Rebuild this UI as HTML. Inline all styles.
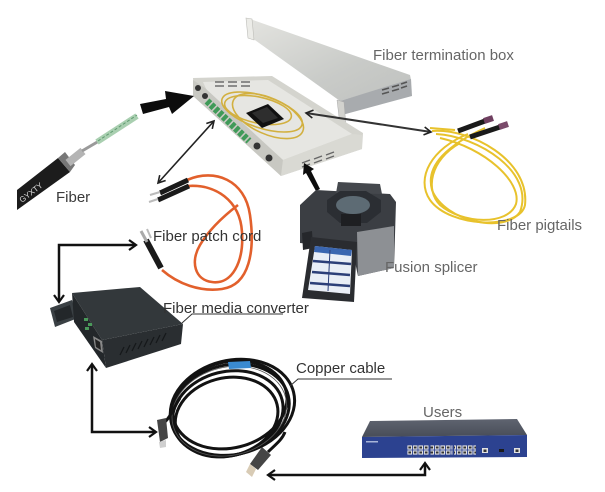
<!DOCTYPE html>
<html><head><meta charset="utf-8"><style>
html,body{margin:0;padding:0;background:#fff;}
svg{display:block;}
text{font-family:"Liberation Sans",Arial,sans-serif;font-size:15px;}
</style></head><body>
<svg width="605" height="492" viewBox="0 0 605 492" xmlns="http://www.w3.org/2000/svg">
<defs>
 <marker id="ah" markerWidth="12" markerHeight="12" refX="9" refY="6" orient="auto-start-reverse" markerUnits="userSpaceOnUse">
  <path d="M2,1 L9,6 L2,11" fill="none" stroke="#111" stroke-width="2.2"/>
 </marker>
 <marker id="ahs" markerWidth="10" markerHeight="10" refX="8" refY="5" orient="auto-start-reverse" markerUnits="userSpaceOnUse">
  <path d="M1,1 L8,5 L1,9" fill="none" stroke="#222" stroke-width="1.6"/>
 </marker>
 <linearGradient id="lidg" x1="0" y1="0" x2="1" y2="1">
  <stop offset="0" stop-color="#e4e4e0"/><stop offset="0.6" stop-color="#c9cbc8"/><stop offset="1" stop-color="#bfc1bf"/>
 </linearGradient>
 <linearGradient id="swtop" x1="0" y1="0" x2="0" y2="1">
  <stop offset="0" stop-color="#5f6470"/><stop offset="1" stop-color="#484d58"/>
 </linearGradient>
 <pattern id="ports" width="5.5" height="5" patternUnits="userSpaceOnUse" x="407" y="445">
  <rect x="0.4" y="0.4" width="4.6" height="4.2" fill="#e2e2e2"/><rect x="1.4" y="1.5" width="2.6" height="2" fill="#333"/>
 </pattern>
</defs>

<!-- ===== Fiber termination box lid ===== -->
<polygon points="246,18 253,20 410,75 411,80 340,101 252,38" fill="url(#lidg)"/>
<polygon points="246,18 252,19 254,40 248,38" fill="#ecece8" stroke="#bdbdb8" stroke-width="0.6"/>
<polygon points="340,101 411,79 412,96 342,115" fill="#a8abae"/>
<polygon points="337,100 344,102 346,127 340,125" fill="#d2d2ce" stroke="#aaa" stroke-width="0.5"/>
<g stroke="#555" stroke-width="1.6">
 <line x1="382" y1="90" x2="389" y2="88"/><line x1="392" y1="87" x2="399" y2="85"/><line x1="401" y1="84" x2="407" y2="82"/>
 <line x1="382" y1="94" x2="389" y2="92"/><line x1="392" y1="91" x2="399" y2="89"/><line x1="401" y1="88" x2="407" y2="86"/>
</g>

<!-- ===== Tray ===== -->
<polygon points="193,78 272,76 363,133 362,149 281,176 194,96" fill="#d4d4ce"/>
<polygon points="203,82 268,80 352,134 283,160 208,93" fill="#e6e6e2"/>
<polygon points="193,80 205,88 283,160 281,176 193,96" fill="#c8c8c2"/>
<polygon points="283,160 352,134 362,135 362,149 281,176" fill="#d9d9d3"/>
<g stroke="#666" stroke-width="1.4">
 <line x1="215" y1="82" x2="224" y2="82"/><line x1="228" y1="82" x2="237" y2="82"/><line x1="241" y1="82" x2="250" y2="82"/>
 <line x1="215" y1="86" x2="224" y2="86"/><line x1="228" y1="86" x2="237" y2="86"/><line x1="241" y1="86" x2="250" y2="86"/>
 <line x1="302" y1="163" x2="310" y2="160"/><line x1="314" y1="159" x2="322" y2="156"/><line x1="326" y1="155" x2="334" y2="152"/>
 <line x1="302" y1="167" x2="310" y2="164"/><line x1="314" y1="163" x2="322" y2="160"/><line x1="326" y1="159" x2="334" y2="156"/>
</g>
<line x1="207" y1="101" x2="249" y2="141" stroke="#3f9a58" stroke-width="7" stroke-dasharray="4 1.6"/>
<circle cx="198" cy="88" r="3" fill="#333"/><circle cx="205" cy="96" r="3" fill="#333"/>
<circle cx="257" cy="146" r="3.5" fill="#333"/><circle cx="269" cy="158" r="3.5" fill="#333"/>
<g fill="none" stroke="#d2b040" stroke-width="1.6">
 <ellipse cx="262" cy="112" rx="42" ry="16" transform="rotate(18 262 112)"/>
 <ellipse cx="258" cy="110" rx="34" ry="13" transform="rotate(12 258 110)"/>
 <ellipse cx="268" cy="116" rx="38" ry="18" transform="rotate(24 268 116)"/>
</g>
<polygon points="246,113 268,104 284,119 262,128" fill="#111"/>
<polygon points="252,113 267,107 278,118 263,123" fill="#2e2e2e"/>

<!-- ===== Fiber cable ===== -->
<polygon points="17,190 58,158 70,172 17,210" fill="#1c1c1c"/>
<polygon points="58,158 65,152 75,165 70,172" fill="#777"/>
<line x1="68" y1="163" x2="83" y2="151" stroke="#b4b4b4" stroke-width="8"/>
<line x1="82" y1="151" x2="99" y2="141" stroke="#9a9a9a" stroke-width="3"/>
<line x1="97" y1="142" x2="137" y2="116" stroke="#a9cfb0" stroke-width="6"/>
<line x1="98" y1="141" x2="137" y2="115" stroke="#5f9a70" stroke-width="1" stroke-dasharray="3 2"/>
<text x="22" y="203" transform="rotate(-38 22 203)" fill="#ddd" style="font-size:8px">GYXTY</text>

<!-- thick arrows -->
<polygon points="140,104 166,99 165,91 194,96 172,114 169,107 143,114" fill="#0c0c0c"/>
<polygon points="304,163 314,169 311,171 320,189 316,191 306,173 303,175" fill="#0c0c0c"/>

<!-- ===== Patch cord ===== -->
<g fill="none" stroke="#e2602c" stroke-width="2.6">
 <path d="M187,180 C215,168 245,180 250,215 C255,250 250,285 222,289 C200,292 178,284 162,270"/>
 <path d="M188,186 C215,184 240,200 242,232 C244,262 232,285 212,282 C195,280 190,262 200,245 C210,228 225,215 238,205"/>
</g>
<line x1="160" y1="193" x2="188" y2="180" stroke="#1a1a1a" stroke-width="5"/>
<line x1="158" y1="200" x2="189" y2="186" stroke="#1a1a1a" stroke-width="5"/>
<line x1="150" y1="195" x2="160" y2="192" stroke="#bbb" stroke-width="2"/>
<line x1="149" y1="202" x2="158" y2="199" stroke="#bbb" stroke-width="2"/>
<line x1="146" y1="240" x2="161" y2="268" stroke="#1a1a1a" stroke-width="6"/>
<line x1="141" y1="231" x2="147" y2="242" stroke="#aaa" stroke-width="3"/>
<line x1="147" y1="229" x2="151" y2="238" stroke="#bbb" stroke-width="2"/>

<!-- ===== Fusion splicer ===== -->
<polygon points="300,205 316,190 390,194 396,202 394,268 358,276 352,248 300,243" fill="#3b3e43"/>
<polygon points="357,232 394,226 394,268 358,276" fill="#8d9094"/>
<polygon points="338,182 380,184 382,194 336,193" fill="#45484d"/>
<polygon points="327,200 340,191 366,191 381,200 381,212 367,223 340,223 327,212" fill="#2b2e33"/>
<ellipse cx="353" cy="205" rx="17" ry="9" fill="#5d6b74"/>
<rect x="341" y="214" width="20" height="12" fill="#1e1f22"/>
<polygon points="302,233 312,231 313,248 303,250" fill="#25272b"/>
<polygon points="311,237 357,242 354,302 302,298" fill="#2a2c30"/>
<polygon points="315,246 352,250 350,294 308,290" fill="#e9eef6"/>
<polygon points="315,246 352,250 351,256 314,252" fill="#3a66b0"/>
<g stroke="#2c3f78" stroke-width="2.5">
 <line x1="313" y1="261" x2="351" y2="264"/><line x1="312" y1="272" x2="350" y2="275"/><line x1="310" y1="283" x2="350" y2="286"/>
</g>
<line x1="330" y1="250" x2="328" y2="291" stroke="#2c3f78" stroke-width="1"/>

<!-- ===== Pigtails ===== -->
<g fill="none" stroke="#e8c22c" stroke-width="2">
 <path d="M432,131 C470,128 530,160 525,205 C520,230 450,228 430,200 C415,178 432,148 468,134"/>
 <path d="M436,134 C478,136 535,172 520,212 C505,234 445,222 432,190 C425,165 448,145 485,128"/>
 <path d="M440,138 C485,148 522,182 516,204 C508,226 462,224 440,205 C425,190 430,160 460,143"/>
 <path d="M430,128 L455,130"/>
</g>
<line x1="458" y1="131" x2="485" y2="121" stroke="#1a1a1a" stroke-width="5"/>
<line x1="484" y1="121" x2="493" y2="118" stroke="#6f3f60" stroke-width="6"/>
<line x1="470" y1="137" x2="500" y2="127" stroke="#1a1a1a" stroke-width="5"/>
<line x1="499" y1="127" x2="508" y2="124" stroke="#7a4a6a" stroke-width="6"/>

<!-- thin arrows -->
<line x1="158" y1="183" x2="214" y2="121" stroke="#222" stroke-width="1.6" marker-start="url(#ahs)" marker-end="url(#ahs)"/>
<line x1="306" y1="113" x2="431" y2="132" stroke="#333" stroke-width="2" marker-start="url(#ahs)" marker-end="url(#ahs)"/>

<!-- ===== Media converter ===== -->
<polygon points="50,308 72,300 78,318 55,327" fill="#3a4044"/>
<polygon points="54,311 70,305 73,317 57,322" fill="#23272a"/>
<polygon points="72,293 140,287 183,324 102,340" fill="#33383b"/>
<polygon points="72,293 102,340 106,368 74,322" fill="#23272a"/>
<polygon points="102,340 183,324 181,344 106,368" fill="#2a2e31"/>
<g stroke="#15181a" stroke-width="1.2">
 <line x1="120" y1="355" x2="124" y2="347"/><line x1="126" y1="353" x2="130" y2="345"/><line x1="132" y1="351" x2="136" y2="343"/>
 <line x1="138" y1="349" x2="142" y2="341"/><line x1="144" y1="347" x2="148" y2="339"/><line x1="150" y1="345" x2="154" y2="337"/>
 <line x1="156" y1="343" x2="160" y2="335"/><line x1="162" y1="341" x2="166" y2="333"/>
</g>
<rect x="84" y="318" width="4" height="3" fill="#4a9a5a"/><rect x="88" y="323" width="4" height="3" fill="#4a9a5a"/><rect x="85" y="327" width="4" height="3" fill="#4a9a5a"/>
<polygon points="93,336 102,341 103,353 95,348" fill="#888"/>
<polygon points="95,339 100,342 101,350 96,347" fill="#222"/>
<polyline points="182,323 192,314 283,314" fill="none" stroke="#333" stroke-width="1"/>

<!-- ===== Copper cable ===== -->
<g fill="none" stroke="#121212" stroke-width="3" transform="rotate(-14 230 410)">
 <ellipse cx="230" cy="410" rx="60" ry="45"/>
 <ellipse cx="227" cy="413" rx="56" ry="42"/>
 <ellipse cx="233" cy="408" rx="63" ry="47"/>
 <ellipse cx="225" cy="416" rx="52" ry="39"/>
 <ellipse cx="231" cy="405" rx="58" ry="43"/>
</g>
<g fill="none" stroke="#555" stroke-width="0.8" transform="rotate(-14 230 410)">
 <ellipse cx="229" cy="411" rx="58" ry="44"/>
</g>
<polygon points="228,362 250,361 251,368 229,369" fill="#3a8ad0"/>
<path d="M165,422 C172,415 175,405 180,398" fill="none" stroke="#121212" stroke-width="3"/>
<polygon points="157,420 166,418 168,438 160,442" fill="#454545"/>
<polygon points="159,442 166,440 166,447 160,448" fill="#cfcfcf"/>
<path d="M268,452 C275,445 282,440 285,432" fill="none" stroke="#121212" stroke-width="3"/>
<polygon points="262,447 271,455 258,470 250,464" fill="#454545"/>
<polygon points="250,464 256,469 252,477 246,472" fill="#d8cbb5"/>
<polyline points="290,386 298,379 392,379" fill="none" stroke="#333" stroke-width="1"/>

<!-- ===== Switch ===== -->
<polygon points="370,421 517,419 527,435 362,437" fill="url(#swtop)"/>
<polygon points="362,437 527,435 527,457 362,458" fill="#2c4290"/>
<rect x="407" y="445" width="22" height="10" fill="url(#ports)"/>
<rect x="430.5" y="445" width="22" height="10" fill="url(#ports)"/>
<rect x="454" y="445" width="22" height="10" fill="url(#ports)"/>
<rect x="482" y="448" width="6" height="5" fill="#e2e2e2"/><rect x="483.5" y="449.5" width="3" height="2.5" fill="#333"/>
<rect x="499" y="449" width="5" height="3" fill="#1a1a1a"/>
<rect x="514" y="448" width="6" height="5" fill="#e2e2e2"/><rect x="515.5" y="449.5" width="3" height="2.5" fill="#333"/>
<rect x="366" y="441" width="12" height="1.5" fill="#a8b4d8"/>

<!-- L arrows -->
<path d="M59,302 L59,245 L136,245" fill="none" stroke="#111" stroke-width="2.5" marker-start="url(#ah)" marker-end="url(#ah)"/>
<path d="M92,364 L92,432 L156,432" fill="none" stroke="#111" stroke-width="2.5" marker-start="url(#ah)" marker-end="url(#ah)"/>
<path d="M425,463 L425,475 L268,475" fill="none" stroke="#111" stroke-width="2.5" marker-start="url(#ah)" marker-end="url(#ah)"/>

<!-- labels -->
<text x="373" y="60" fill="#666">Fiber termination box</text>
<text x="56" y="202" fill="#3a3a3a">Fiber</text>
<text x="153" y="241" fill="#333">Fiber patch cord</text>
<text x="385" y="272" fill="#666">Fusion splicer</text>
<text x="497" y="230" fill="#666">Fiber pigtails</text>
<text x="163" y="313" fill="#333">Fiber media converter</text>
<text x="296" y="373" fill="#333">Copper cable</text>
<text x="423" y="417" fill="#666">Users</text>
</svg>
</body></html>
